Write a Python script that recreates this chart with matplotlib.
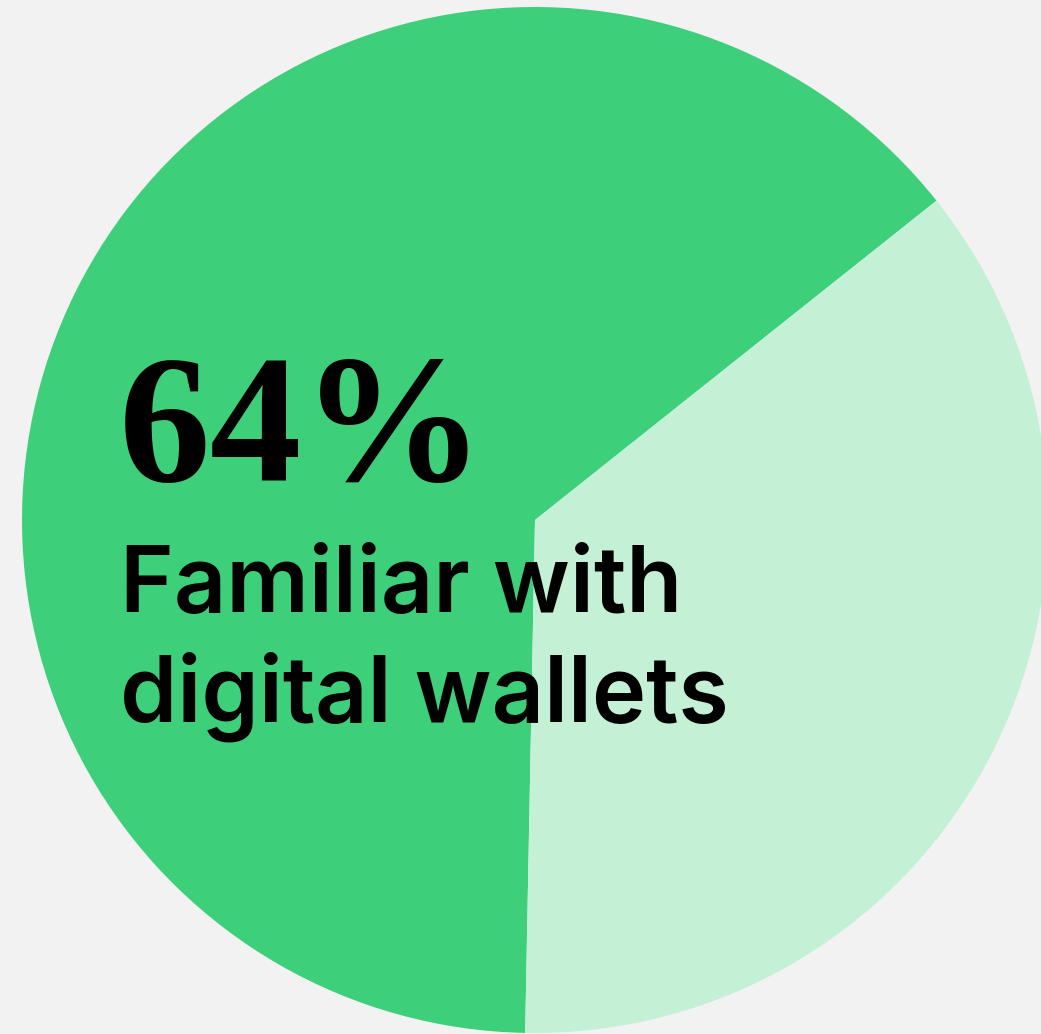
import matplotlib
matplotlib.use("Agg")
import matplotlib.pyplot as plt

# Share of respondents
labels = ["Familiar with digital wallets", "Not familiar"]
shares = [64, 36]
colors = ["#3dcf7a", "#c4f0d6"]
headline = "64%"
caption_lines = ["Familiar with", "digital wallets"]

W, H = 1041, 1034
fig = plt.figure(figsize=(W / 100, H / 100), dpi=100, facecolor="#f2f2f2")
ax = fig.add_axes([0, 0, 1, 1])

ax.pie(shares, colors=colors, center=(535, H - 520), radius=513,
       startangle=38.5, counterclock=True,
       wedgeprops=dict(linewidth=0))
ax.set_xlim(0, W)
ax.set_ylim(0, H)
ax.set_aspect("equal")
ax.axis("off")

ax.text(119, H - 481, headline, fontsize=132, fontweight="bold",
        family="Liberation Serif", color="black", va="baseline", ha="left")
for i, line in enumerate(caption_lines):
    ax.text(120, H - 612 - 110 * i, line, fontsize=66, fontweight="semibold",
            family="Inter", color="black", va="baseline", ha="left")

fig.savefig("out.png", dpi=100, facecolor=fig.get_facecolor())
